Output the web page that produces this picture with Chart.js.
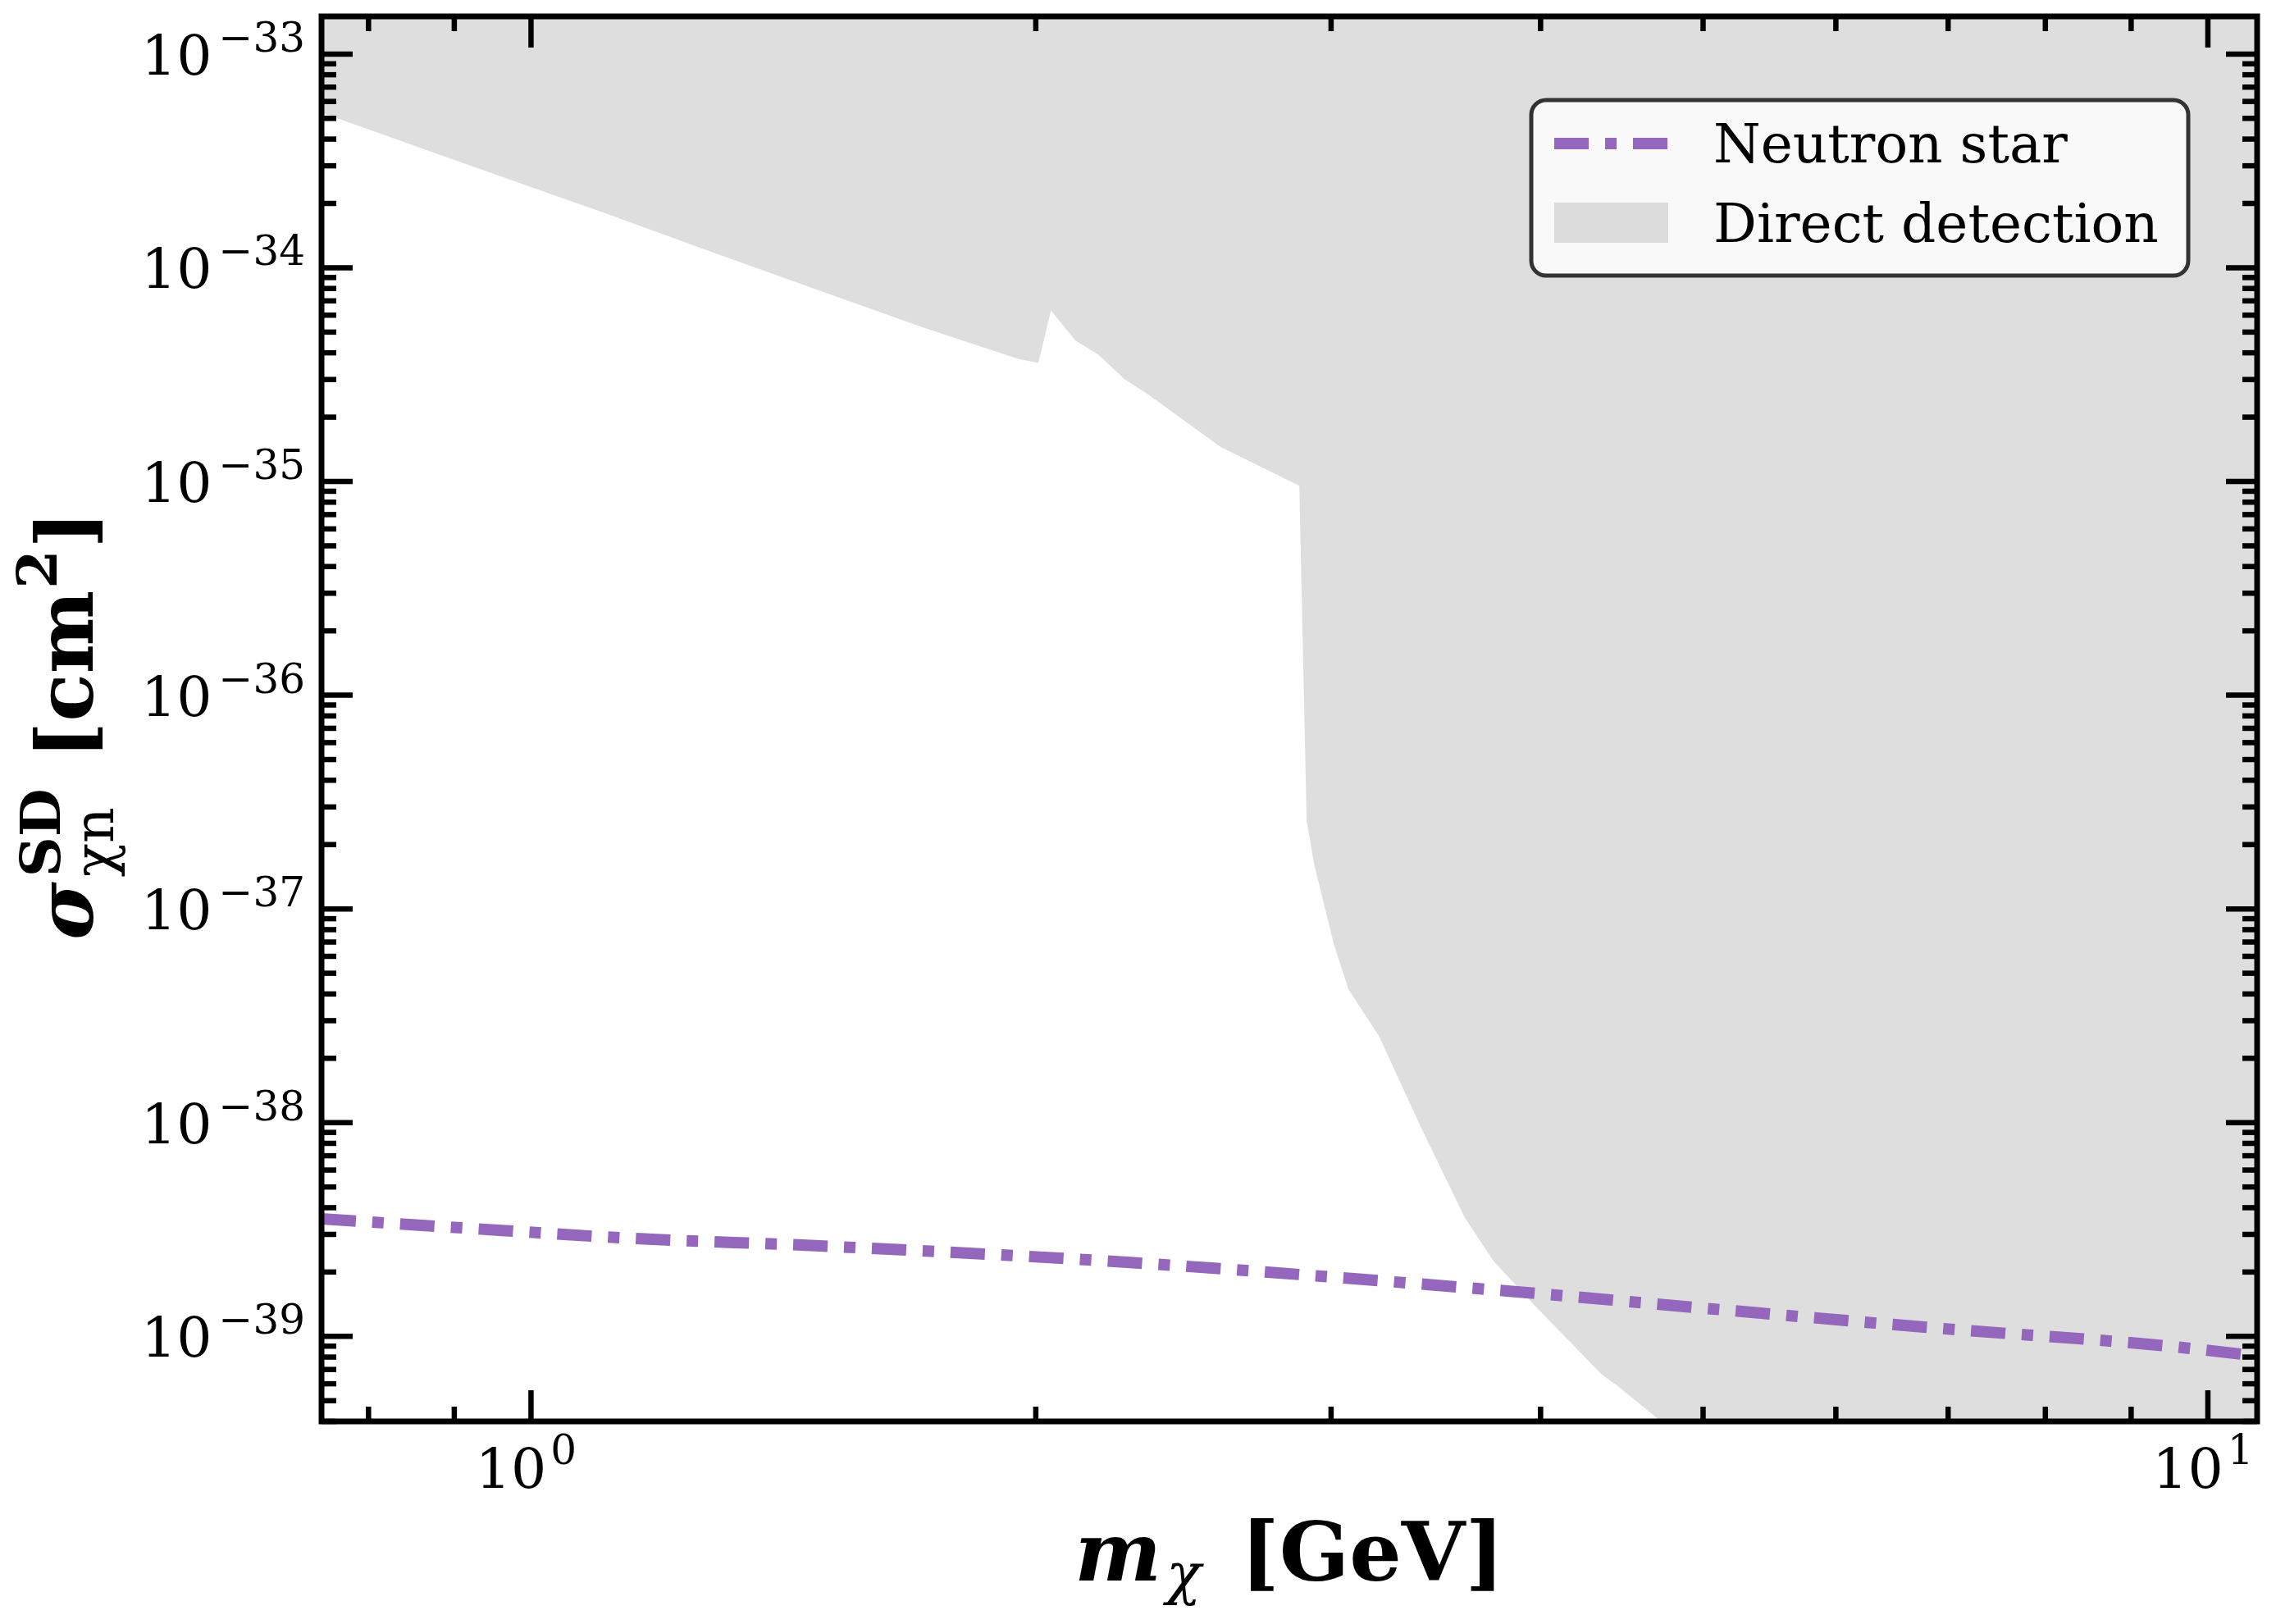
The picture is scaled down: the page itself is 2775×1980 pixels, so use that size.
<!DOCTYPE html>
<html>
<head>
<meta charset="utf-8">
<script src="https://cdn.jsdelivr.net/npm/chart.js@4.4.1/dist/chart.umd.min.js"></script>
<style>
  html, body { margin: 0; padding: 0; background: #ffffff; }
  #c { display: block; }
</style>
</head>
<body>
<canvas id="c" width="2775" height="1980"></canvas>
<script>
// ---------------- data ----------------
const xMin = 0.75, xMax = 10.7;
const yMin = 4e-40, yMax = 1.5e-33;

// Neutron star bound (dash-dot purple)
const nsMass  = [0.75, 0.961, 1.152, 1.487, 2.268, 3.82, 5.14, 6.92, 9.39, 10.7];
const nsSigma = [3.55e-39, 3.13e-39, 2.87e-39, 2.65e-39, 2.22e-39, 1.63e-39, 1.33e-39, 1.09e-39, 9.06e-40, 8.1e-40];

// Direct detection exclusion boundary (region above is shaded)
const ddMass  = [0.75, 0.865, 0.995, 1.112, 1.254, 1.458, 1.713, 1.952, 2.007, 2.042, 2.112, 2.180, 2.259, 2.334, 2.578, 2.872, 2.901, 2.931, 3.011, 3.073, 3.203, 3.396, 3.605, 3.750, 3.98, 4.35, 4.44, 4.71, 5.14, 11.0];
const ddSigma = [5.32e-34, 3.57e-34, 2.42e-34, 1.78e-34, 1.26e-34, 8.24e-35, 5.25e-35, 3.75e-35, 3.59e-35, 6.32e-35, 4.56e-35, 3.92e-35, 3.01e-35, 2.55e-35, 1.45e-35, 9.54e-36, 2.59e-37, 1.62e-37, 6.87e-38, 4.19e-38, 2.55e-38, 9.41e-39, 3.59e-39, 2.25e-39, 1.36e-39, 6.64e-40, 5.92e-40, 4.05e-40, 2.34e-40, 2.34e-40];

// tick labels
const xMajor    = [1, 10];
const xMajorExp = ['0', '1'];
const yMajor    = [1e-33, 1e-34, 1e-35, 1e-36, 1e-37, 1e-38, 1e-39];
const yMajorExp = ['\u221233', '\u221234', '\u221235', '\u221236', '\u221237', '\u221238', '\u221239'];

const legendLabels = ['Neutron star', 'Direct detection'];

// ---------------- styles ----------------
const NS_COLOR = '#9467bd';
const DD_COLOR = 'rgba(211,211,211,0.75)';
const SERIF = '"DejaVu Serif", "Liberation Serif", serif';

function drawRuns(ctx, runs, x, y, align) {
  const widths = runs.map(r => { ctx.font = r.font; return ctx.measureText(r.t).width + (r.gap || 0); });
  let total = 0;
  for (let i = 0; i < runs.length; i++) {
    if (runs[i].stack) { total += Math.max(widths[i], widths[i + 1]); i++; }
    else total += widths[i];
  }
  let cx = align === 'center' ? x - total / 2 : (align === 'right' ? x - total : x);
  for (let i = 0; i < runs.length; i++) {
    const r = runs[i];
    ctx.font = r.font;
    ctx.fillText(r.t, cx, y + (r.dy || 0));
    if (r.stack) {
      const r2 = runs[i + 1];
      ctx.font = r2.font;
      ctx.fillText(r2.t, cx, y + (r2.dy || 0));
      cx += Math.max(widths[i], widths[i + 1]);
      i++;
    } else {
      cx += widths[i];
    }
  }
  return total;
}

const deco = {
  id: 'deco',
  afterDraw(chart) {
    const { ctx, chartArea: a, scales } = chart;
    const xs = scales.x, ys = scales.y;
    ctx.save();
    ctx.strokeStyle = '#000';
    ctx.fillStyle = '#000';
    ctx.lineCap = 'butt';
    const seg = (x1, y1, x2, y2) => { ctx.beginPath(); ctx.moveTo(x1, y1); ctx.lineTo(x2, y2); ctx.stroke(); };

    // x ticks (inward, bottom and top)
    ctx.lineWidth = 6.5;
    for (let d = -1; d <= 1; d++) {
      for (let k = 1; k <= 9; k++) {
        const v = k * Math.pow(10, d);
        if (v < xMin || v > xMax) continue;
        const px = xs.getPixelForValue(v);
        const len = (k === 1) ? 38 : 18;
        seg(px, a.bottom, px, a.bottom - len);
        seg(px, a.top, px, a.top + len);
      }
    }
    // y ticks (inward, left and right)
    for (let d = -40; d <= -33; d++) {
      for (let k = 1; k <= 9; k++) {
        const v = k * Math.pow(10, d);
        if (v < yMin * 0.999 || v > yMax) continue;
        const py = ys.getPixelForValue(v);
        const len = (k === 1) ? 38 : 18;
        seg(a.left, py, a.left + len, py);
        seg(a.right, py, a.right - len, py);
      }
    }
    // frame
    ctx.lineWidth = 7;
    ctx.strokeRect(a.left, a.top, a.right - a.left, a.bottom - a.top);

    // y tick labels
    ctx.textBaseline = 'alphabetic';
    ctx.textAlign = 'left';
    yMajor.forEach((v, i) => {
      const py = ys.getPixelForValue(v);
      drawRuns(ctx, [
        { t: '10', font: '68px ' + SERIF, dy: 25, gap: 8 },
        { t: yMajorExp[i], font: '50px ' + SERIF, dy: -3 }
      ], 372, py, 'right');
    });
    // x tick labels
    xMajor.forEach((v, i) => {
      const px = xs.getPixelForValue(v);
      drawRuns(ctx, [
        { t: '10', font: '68px ' + SERIF, dy: 0, gap: 5 },
        { t: xMajorExp[i], font: '50px ' + SERIF, dy: -29 }
      ], px - 6, 1814, 'center');
    });

    // x axis title: m_chi [GeV]
    drawRuns(ctx, [
      { t: 'm', font: 'bold italic 100px ' + SERIF, dy: 0, gap: 6 },
      { t: '\u03c7', font: 'italic 70px ' + SERIF, dy: 16, gap: 48 },
      { t: '[GeV]', font: 'bold 100px ' + SERIF, dy: 0 }
    ], (a.left + a.right) / 2, 1927, 'center');

    // y axis title (rotated): sigma^SD_{chi n} [cm^2]
    ctx.save();
    ctx.translate(113, (a.top + a.bottom) / 2 + 8);
    ctx.rotate(-Math.PI / 2);
    drawRuns(ctx, [
      { t: '\u03c3', font: 'bold italic 96px ' + SERIF, dy: 0, gap: 6 },
      { t: 'SD', font: 'bold 68px ' + SERIF, dy: -40, stack: true, gap: 36 },
      { t: '\u03c7n', font: '68px ' + SERIF, dy: 25, gap: 36 },
      { t: '[cm', font: 'bold 96px ' + SERIF, dy: 0, gap: 2 },
      { t: '2', font: 'bold 68px ' + SERIF, dy: -44, gap: 2 },
      { t: ']', font: 'bold 96px ' + SERIF, dy: 0 }
    ], 0, 0, 'center');
    ctx.restore();

    // legend
    const L = { x: 1867, y: 122, w: 801, h: 214, r: 18 };
    ctx.beginPath();
    ctx.roundRect(L.x, L.y, L.w, L.h, L.r);
    ctx.fillStyle = 'rgba(255,255,255,0.8)';
    ctx.fill();
    ctx.lineWidth = 5;
    ctx.strokeStyle = '#333333';
    ctx.stroke();
    // neutron star sample
    ctx.save();
    ctx.strokeStyle = NS_COLOR;
    ctx.lineWidth = 14;
    ctx.setLineDash([42, 20, 14, 20]);
    seg(1895, 175, 2034, 175);
    ctx.restore();
    // direct detection sample
    ctx.fillStyle = DD_COLOR;
    ctx.fillRect(1895, 247, 139, 49);
    ctx.fillStyle = '#000';
    ctx.font = '66px ' + SERIF;
    ctx.fillText(legendLabels[0], 2089, 198);
    ctx.fillText(legendLabels[1], 2089, 295);

    ctx.restore();
  }
};

new Chart(document.getElementById('c'), {
  type: 'line',
  data: {
    datasets: [
      {
        label: legendLabels[1],
        data: ddMass.map((m, i) => ({ x: m, y: ddSigma[i] })),
        borderWidth: 0,
        borderColor: 'rgba(0,0,0,0)',
        backgroundColor: DD_COLOR,
        pointRadius: 0,
        fill: 'end',
        tension: 0,
        order: 2
      },
      {
        label: legendLabels[0],
        data: nsMass.map((m, i) => ({ x: m, y: nsSigma[i] })),
        borderColor: NS_COLOR,
        borderWidth: 14,
        borderDash: [42, 20, 14, 20],
        borderCapStyle: 'butt',
        pointRadius: 0,
        fill: false,
        cubicInterpolationMode: 'monotone',
        order: 1
      }
    ]
  },
  options: {
    responsive: false,
    animation: false,
    devicePixelRatio: 1,
    layout: { padding: { left: 392, right: 23, top: 20, bottom: 247 } },
    plugins: { legend: { display: false }, tooltip: { enabled: false } },
    scales: {
      x: { type: 'logarithmic', min: xMin, max: xMax, display: false },
      y: { type: 'logarithmic', min: yMin, max: yMax, display: false }
    }
  },
  plugins: [deco]
});
</script>
</body>
</html>
